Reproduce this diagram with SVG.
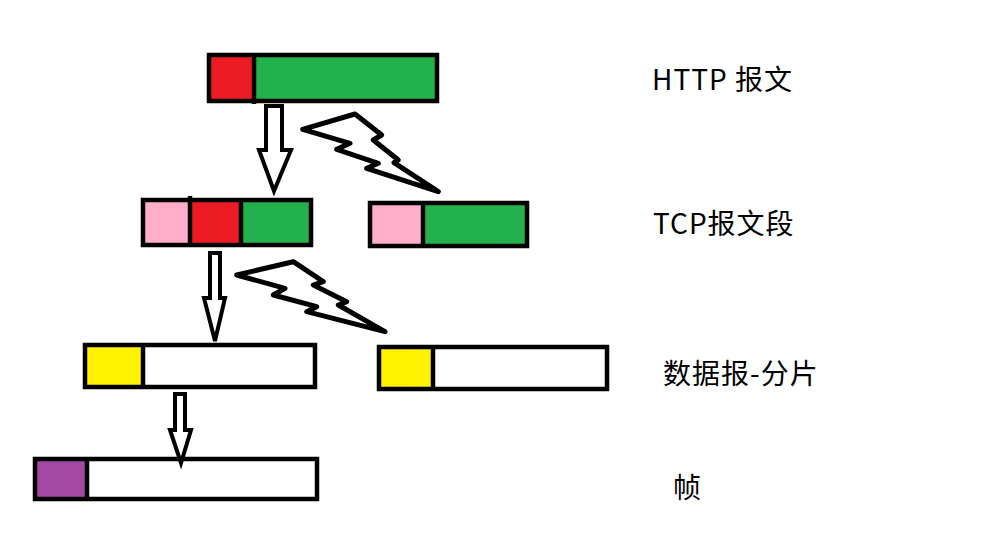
<svg xmlns="http://www.w3.org/2000/svg" width="1006" height="552" viewBox="0 0 1006 552">
<style>
.b{fill:none;stroke:#000;stroke-width:4.5}
.d{stroke:#000;stroke-width:4.5}
.ar{fill:#fff;stroke:#000;stroke-width:4;stroke-linejoin:miter}
.lt{fill:#fff;stroke:#000;stroke-width:5;stroke-linejoin:round}
.lbl{font-family:"Microsoft YaHei","Noto Sans CJK SC",sans-serif;font-size:28px;letter-spacing:1px;fill:#000}
.red{fill:#ED1C24}.grn{fill:#22B14C}.pnk{fill:#FFAEC9}.yel{fill:#FFF200}.pur{fill:#A349A4}.wht{fill:#fff}
</style>
<rect width="1006" height="552" fill="#fff"/>
<g id="http">
<rect class="red" x="209" y="55" width="45" height="46"/>
<rect class="grn" x="254" y="55" width="183" height="46"/>
<rect class="b" x="209" y="55" width="228" height="46"/>
<line class="d" x1="254" y1="55" x2="254" y2="104"/>
</g>
<g id="tcp1">
<rect class="pnk" x="143" y="200" width="47" height="45"/>
<rect class="red" x="190" y="200" width="51" height="45"/>
<rect class="grn" x="241" y="200" width="70" height="45"/>
<rect class="b" x="143" y="200" width="168" height="45"/>
<line class="d" x1="190" y1="196" x2="190" y2="245"/>
<line class="d" x1="241" y1="200" x2="241" y2="245"/>
</g>
<g id="tcp2">
<rect class="pnk" x="370" y="203" width="53" height="43"/>
<rect class="grn" x="423" y="203" width="104" height="43"/>
<rect class="b" x="370" y="203" width="157" height="43"/>
<line class="d" x1="423" y1="203" x2="423" y2="246"/>
</g>
<g id="dg1">
<rect class="yel" x="85" y="345" width="58" height="42"/>
<rect class="b" x="85" y="345" width="230" height="42"/>
<line class="d" x1="143" y1="345" x2="143" y2="387"/>
</g>
<g id="dg2">
<rect class="yel" x="379" y="347" width="54" height="42"/>
<rect class="b" x="379" y="347" width="228" height="42"/>
<line class="d" x1="433" y1="347" x2="433" y2="389"/>
</g>
<g id="frame">
<rect class="pur" x="35" y="459" width="52" height="40"/>
<rect class="b" x="35" y="459" width="282" height="40"/>
<line class="d" x1="87" y1="459" x2="87" y2="499"/>
</g>
<g id="connectors">
<polygon class="ar" points="266,106 282,106 282,150 291,150 274,191 259,150 266,150"/>
<polygon class="ar" points="210,253 220,253 220,298 225,298 215,341 204,298 210,298"/>
<polygon class="ar" points="175,394 185,394 185,430 191,430 181,463 170,430 175,430"/>
<polygon class="lt" points="302.7,129.3 355,114 381.7,135 373.3,140 398.3,160 394,162.7 438.3,191.7 366.7,168.3 378.3,163.3 336.7,149.3 350,143.3"/>
<polygon class="lt" points="236.7,275 293.3,261.7 323.3,281.7 313.3,285 346.7,301.7 338.3,305 385,331.7 306.7,311.7 316.7,306.7 273.3,295 285,288.3"/>
</g>
<g id="labels">
<text class="lbl" x="652" y="90">HTTP 报文</text>
<text class="lbl" x="653" y="234">TCP报文段</text>
<text class="lbl" x="663" y="384">数据报-分片</text>
<text class="lbl" x="673" y="498">帧</text>
</g>
</svg>
